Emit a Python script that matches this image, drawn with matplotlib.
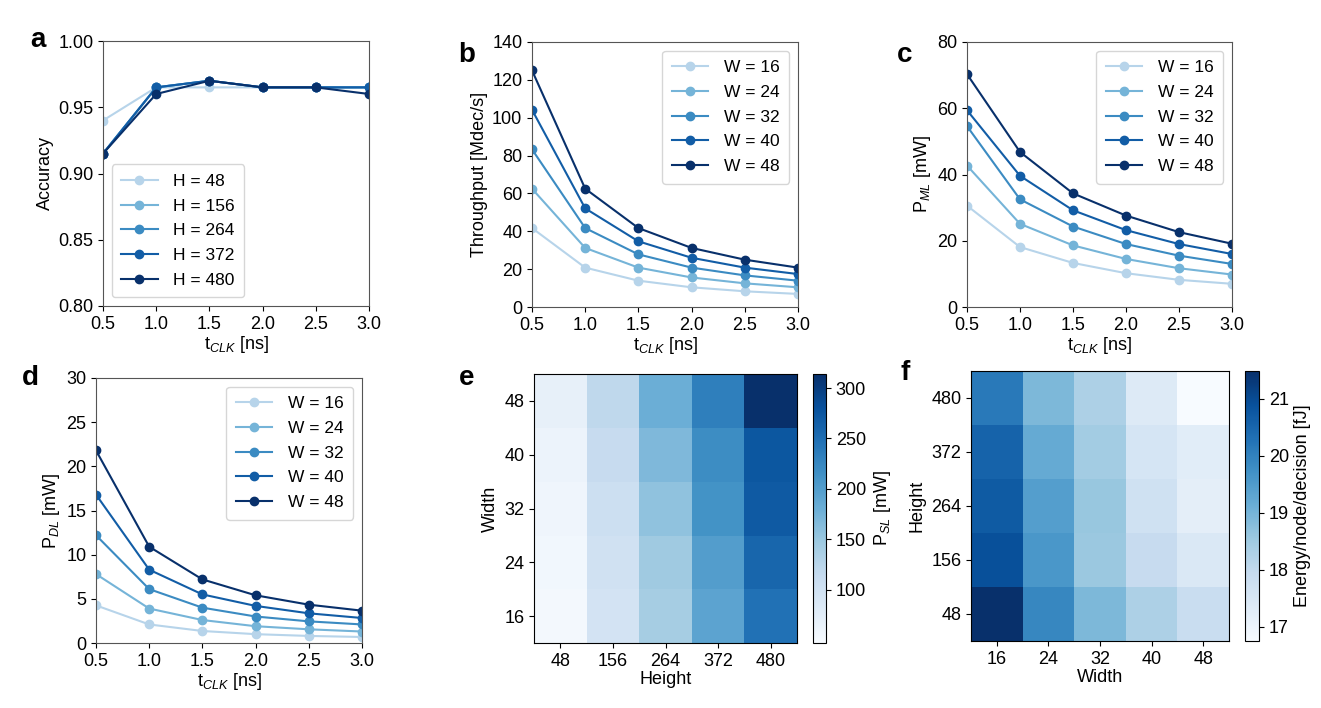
import matplotlib

matplotlib.use("Agg")
import matplotlib.pyplot as plt
import numpy as np

plt.rcParams["font.family"] = ["Liberation Sans", "DejaVu Sans"]
plt.rcParams["mathtext.fontset"] = "custom"
plt.rcParams["mathtext.rm"] = "Liberation Sans"
plt.rcParams["mathtext.it"] = "Liberation Sans:italic"
plt.rcParams["font.size"] = 13

t_clk = [0.5, 1.0, 1.5, 2.0, 2.5, 3.0]
heights = [48, 156, 264, 372, 480]
widths = [16, 24, 32, 40, 48]

# panel a: accuracy per height H
acc = {
    48: [0.940, 0.965, 0.965, 0.965, 0.965, 0.965],
    156: [0.915, 0.965, 0.970, 0.965, 0.965, 0.965],
    264: [0.915, 0.965, 0.970, 0.965, 0.965, 0.965],
    372: [0.915, 0.965, 0.970, 0.965, 0.965, 0.965],
    480: [0.915, 0.960, 0.970, 0.965, 0.965, 0.960],
}
# panel b: throughput per width W
thr = {
    16: [41.7, 20.8, 13.9, 10.4, 8.3, 6.9],
    24: [62.5, 31.2, 20.8, 15.6, 12.5, 10.4],
    32: [83.3, 41.7, 27.8, 20.8, 16.7, 13.9],
    40: [104.2, 52.1, 34.7, 26.0, 20.8, 17.4],
    48: [125.0, 62.5, 41.7, 31.2, 25.0, 20.8],
}
# panel c: P_ML
p_ml = {
    16: [30.6, 18.1, 13.3, 10.2, 8.2, 7.0],
    24: [42.7, 25.1, 18.6, 14.5, 11.7, 9.8],
    32: [54.6, 32.5, 24.3, 19.0, 15.5, 13.0],
    40: [59.4, 39.6, 29.2, 23.2, 19.0, 16.0],
    48: [70.3, 46.8, 34.3, 27.6, 22.6, 19.1],
}
# panel d: P_DL
p_dl = {
    16: [4.26, 2.10, 1.36, 1.00, 0.80, 0.68],
    24: [7.80, 3.90, 2.60, 1.90, 1.55, 1.30],
    32: [12.2, 6.10, 4.00, 3.00, 2.45, 2.10],
    40: [16.8, 8.30, 5.50, 4.20, 3.36, 2.83],
    48: [21.8, 10.9, 7.20, 5.40, 4.34, 3.66],
}
# panel e: P_SL [mW], rows = width (16..48), cols = height (48..480)
p_sl = np.array([
    [52, 95, 140, 193, 247],
    [55, 100, 146, 200, 258],
    [58, 105, 156, 212, 271],
    [62, 112, 167, 219, 274],
    [68, 119, 180, 232, 314],
])
# panel f: energy/node/decision [fJ], rows = height (48..480), cols = width (16..48)
energy = np.array([
    [21.49, 19.90, 18.90, 18.30, 17.85],
    [20.90, 19.60, 18.55, 17.90, 17.45],
    [20.70, 19.45, 18.60, 17.70, 17.20],
    [20.55, 19.20, 18.45, 17.55, 17.25],
    [20.15, 18.90, 18.30, 17.35, 16.75],
])

colors = plt.cm.Blues(np.linspace(0.3, 1.0, 5))
W, H = 1321, 708
fig = plt.figure(figsize=(W / 100, H / 100), dpi=100)


def box(l, t, r, b):
    return [l / W, 1 - b / H, (r - l) / W, (b - t) / H]


def line_panel(rect, data, prefix, ylabel, ylim, yticks, loc):
    ax = fig.add_axes(rect)
    for c, (k, v) in zip(colors, data.items()):
        ax.plot(t_clk, v, "o-", color=c, markersize=6, linewidth=1.5,
                label=f"{prefix} = {k}")
    ax.set_xlim(0.5, 3.0)
    ax.set_xticks(t_clk)
    ax.set_xticklabels([f"{t:.1f}" for t in t_clk])
    ax.set_ylim(*ylim)
    ax.set_yticks(yticks)
    ax.set_xlabel("t$_{CLK}$ [ns]", labelpad=1)
    ax.set_ylabel(ylabel, labelpad=3)
    for s in ax.spines.values():
        s.set_color("#555555")
    ax.legend(loc=loc, fontsize=12.5, handlelength=2.1, handletextpad=0.9,
              borderpad=0.55, labelspacing=0.55)
    return ax


line_panel(box(103, 41, 369, 306), acc, "H", "Accuracy", (0.80, 1.00),
           [0.80, 0.85, 0.90, 0.95, 1.00], "lower left")
line_panel(box(532, 42, 798, 307), thr, "W", "Throughput [Mdec/s]", (0, 140),
           range(0, 141, 20), "upper right")
line_panel(box(967, 42, 1232, 307), p_ml, "W", "P$_{ML}$ [mW]", (0, 80),
           range(0, 81, 20), "upper right")
line_panel(box(96, 378, 362, 643), p_dl, "W", "P$_{DL}$ [mW]", (0, 30),
           range(0, 31, 5), "upper right")


def heat_panel(rect, crect, data, xlabels, xlabel, ylabels, ylabel, clabel, vmin, vmax, cticks):
    ax = fig.add_axes(rect)
    im = ax.imshow(data, cmap="Blues", origin="lower", aspect="auto", vmin=vmin, vmax=vmax)
    ax.set_xticks(range(len(xlabels)))
    ax.set_xticklabels(xlabels)
    ax.set_yticks(range(len(ylabels)))
    ax.set_yticklabels(ylabels)
    ax.set_xlabel(xlabel, labelpad=1)
    ax.set_ylabel(ylabel)
    cax = fig.add_axes(crect)
    cb = fig.colorbar(im, cax=cax, ticks=cticks)
    cb.set_label(clabel)
    return ax


heat_panel(box(534, 374, 797, 643), box(813, 374, 826, 643), p_sl, heights, "Height",
           widths, "Width", "P$_{SL}$ [mW]", 47, 314, [100, 150, 200, 250, 300])
heat_panel(box(971, 371, 1229, 641), box(1245, 371, 1259, 641), energy, widths, "Width",
           heights, "Height", "Energy/node/decision [fJ]", 16.75, 21.49, [17, 18, 19, 20, 21])

for letter, x, y in [("a", 38, 40), ("b", 467, 55), ("c", 905, 55),
                     ("d", 30, 378), ("e", 467, 378), ("f", 905, 373)]:
    fig.text(x / W, 1 - y / H, letter, fontsize=20, fontweight="bold", ha="center", va="center")

fig.savefig("out.png", dpi=100)
